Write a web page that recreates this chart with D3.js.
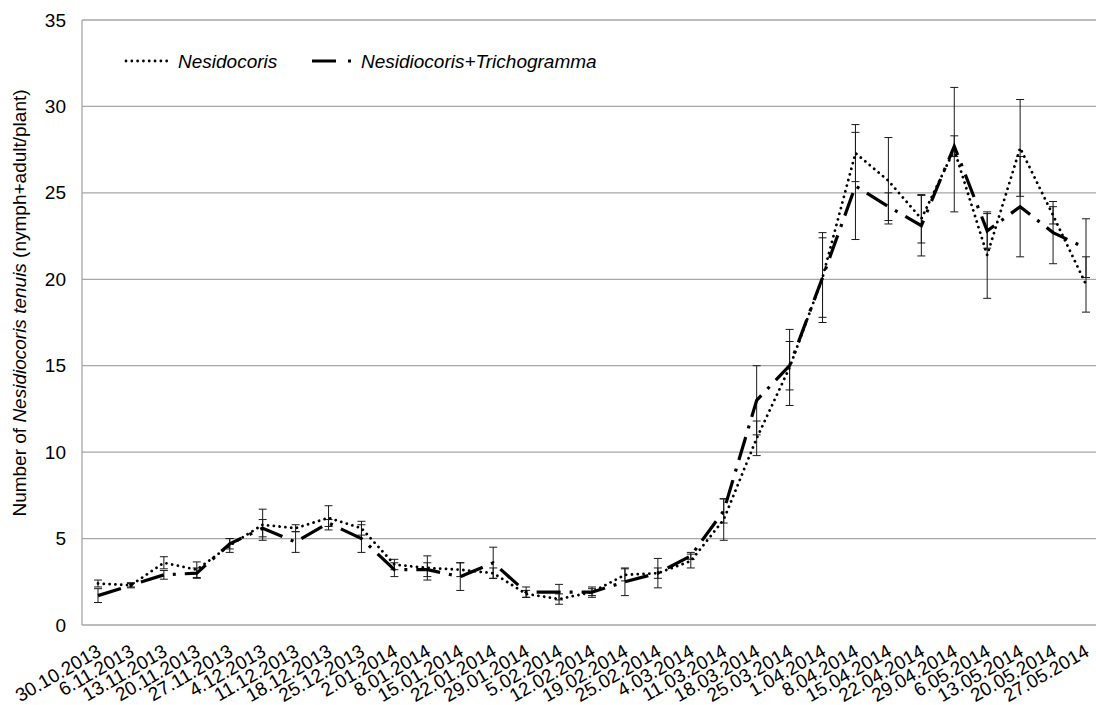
<!DOCTYPE html>
<html><head><meta charset="utf-8">
<script src="https://cdn.jsdelivr.net/npm/d3@7"></script>
<style>body{margin:0;background:#fff}svg{display:block;font-family:"Liberation Sans",Arial,sans-serif}</style>
</head><body><svg id="c" width="1096" height="705"></svg>
<script>
const dates = ["30.10.2013","6.11.2013","13.11.2013","20.11.2013","27.11.2013","4.12.2013","11.12.2013","18.12.2013","25.12.2013","2.01.2014","8.01.2014","15.01.2014","22.01.2014","29.01.2014","5.02.2014","12.02.2014","19.02.2014","25.02.2014","4.03.2014","11.03.2014","18.03.2014","25.03.2014","1.04.2014","8.04.2014","15.04.2014","22.04.2014","29.04.2014","6.05.2014","13.05.2014","20.05.2014","27.05.2014"];
const nesMean = [2.4,2.3,3.6,3.2,4.6,5.8,5.6,6.2,5.6,3.5,3.3,3.2,3.0,1.8,1.5,1.9,2.9,3.0,3.7,6.1,10.8,14.9,20.1,27.3,25.7,23.5,27.5,21.4,27.6,23.7,19.7];
const nesErr  = [0.2,0.15,0.35,0.45,0.4,0.9,0.2,0.7,0.4,0.3,0.7,0.4,0.3,0.2,0.3,0.2,0.35,0.3,0.4,1.2,1.0,2.2,2.6,1.65,2.5,1.4,3.6,2.5,2.8,0.5,1.6];
const triMean = [1.7,2.3,2.9,3.0,4.7,5.6,4.8,5.9,5.0,3.2,3.2,2.8,3.6,1.9,1.9,1.9,2.5,3.0,4.0,6.6,13.0,15.0,20.1,25.4,24.2,23.1,27.7,22.8,24.2,22.7,21.8];
const triErr  = [0.4,0.1,0.25,0.3,0.3,0.5,0.6,0.2,0.8,0.4,0.4,0.8,0.9,0.3,0.45,0.3,0.8,0.85,0.2,0.7,2.0,1.4,2.3,3.1,0.8,1.75,0.6,1.0,2.9,1.8,1.7];
const yTicks = [0,5,10,15,20,25,30,35];
const seriesNames = ["Nesidocoris","Nesidiocoris+Trichogramma"];

const svg = d3.select("#c");
const pL = 82, pR = 1096, pT = 20, pB = 625;
const x = d3.scalePoint().domain(dates).range([98, 1086]);
const y = d3.scaleLinear().domain([0,35]).range([pB, pT]);
const grid = "#a6a6a6";
const FS = 19;

svg.append("g").selectAll("line").data(yTicks.filter(d=>d>0)).join("line")
  .attr("x1", pL).attr("x2", pR).attr("y1", d=>y(d)).attr("y2", d=>y(d))
  .attr("stroke", grid).attr("stroke-width",1.3);
svg.append("line").attr("x1",pL).attr("x2",pR).attr("y1",pB).attr("y2",pB).attr("stroke",grid).attr("stroke-width",1.3);
svg.append("line").attr("x1",pL).attr("x2",pL).attr("y1",pT).attr("y2",pB).attr("stroke",grid).attr("stroke-width",1.3);

const yAxis = d3.axisLeft(y).tickValues(yTicks).tickSize(0).tickPadding(16);
const ga = svg.append("g").attr("transform",`translate(${pL},0)`).call(yAxis);
ga.select(".domain").remove();
ga.selectAll("text").attr("font-size",FS).attr("fill","#000").attr("font-family","Liberation Sans, Arial, sans-serif");

const xAxis = d3.axisBottom(x).tickSize(0).tickPadding(0);
const gx = svg.append("g").attr("transform",`translate(0,${pB})`).call(xAxis);
gx.select(".domain").remove();
gx.selectAll("text").attr("font-size",FS).attr("fill","#000").attr("font-family","Liberation Sans, Arial, sans-serif")
  .attr("text-anchor","end").attr("dy",null).attr("y",0)
  .attr("transform","translate(4,30) rotate(-30)");

svg.append("text").attr("transform","translate(26,303) rotate(-90)").attr("text-anchor","middle")
  .attr("font-size",FS).attr("fill","#000")
  .call(t=>{t.append("tspan").text("Number of ");t.append("tspan").attr("font-style","italic").text("Nesidiocoris tenuis");t.append("tspan").text(" (nymph+adult/plant)");});

function errBars(mean, err){
  const g = svg.append("g").attr("stroke","#1a1a1a").attr("stroke-width",1);
  dates.forEach((d,i)=>{
    const cx = x(d), y1 = y(mean[i]+err[i]), y2 = y(mean[i]-err[i]);
    g.append("line").attr("x1",cx).attr("x2",cx).attr("y1",y1).attr("y2",y2);
    g.append("line").attr("x1",cx-4).attr("x2",cx+4).attr("y1",y1).attr("y2",y1);
    g.append("line").attr("x1",cx-4).attr("x2",cx+4).attr("y1",y2).attr("y2",y2);
  });
}
errBars(nesMean,nesErr);
errBars(triMean,triErr);

const line = d3.line().x((d,i)=>x(dates[i])).y(d=>y(d));
svg.append("path").attr("d",line(triMean)).attr("fill","none").attr("stroke","#000")
  .attr("stroke-width",3.2).attr("stroke-dasharray","24 9 3 9");
svg.append("path").attr("d",line(nesMean)).attr("fill","none").attr("stroke","#000")
  .attr("stroke-width",2.8).attr("stroke-linecap","round").attr("stroke-dasharray","0.01 5.8");

const lg = svg.append("g");
lg.append("line").attr("x1",126).attr("x2",168).attr("y1",61).attr("y2",61).attr("stroke","#000")
  .attr("stroke-width",2.8).attr("stroke-linecap","round").attr("stroke-dasharray","0.01 5.8");
lg.append("text").attr("x",178).attr("y",68).attr("font-size",FS).attr("font-style","italic").text(seriesNames[0]);
lg.append("line").attr("x1",312).attr("x2",352).attr("y1",61).attr("y2",61).attr("stroke","#000")
  .attr("stroke-width",3.2).attr("stroke-dasharray","24 12 3 20");
lg.append("text").attr("x",361).attr("y",68).attr("font-size",FS).attr("font-style","italic").text(seriesNames[1]);
</script></body></html>
